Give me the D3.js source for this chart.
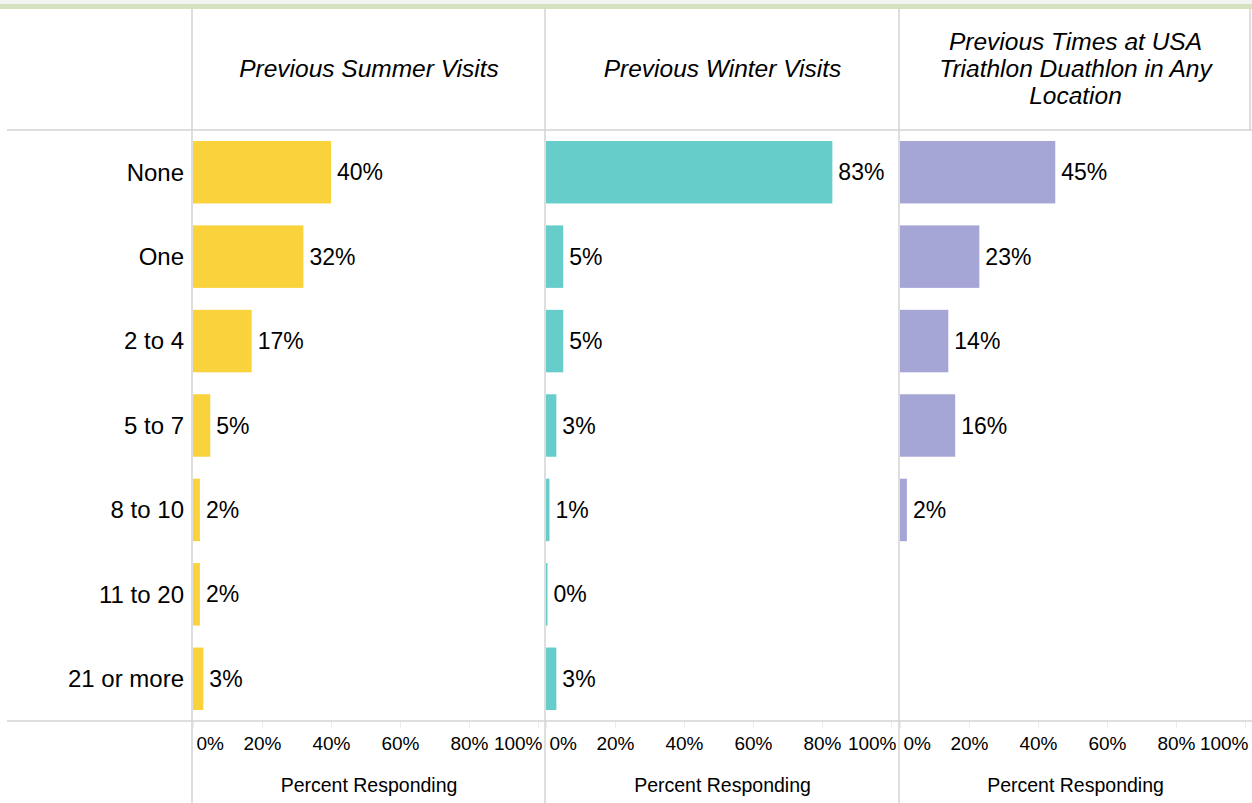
<!DOCTYPE html>
<html>
<head>
<meta charset="utf-8">
<script src="https://cdn.jsdelivr.net/npm/d3@7"></script>
<style>
  body { margin: 0; background: #fff; }
  svg { display: block; font-family: 'Liberation Sans', Arial, sans-serif; }
</style>
</head>
<body>
<div id="chart"></div>
<script>
'use strict'

const categories = ['None', 'One', '2 to 4', '5 to 7', '8 to 10', '11 to 20', '21 or more']
const summerValues = [40, 32, 17, 5, 2, 2, 3]
const winterValues = [83, 5, 5, 3, 1, 0.4, 3]
const triathlonValues = [45, 23, 14, 16, 2, null, null]
const panelTitles = [
  ['Previous Summer Visits'],
  ['Previous Winter Visits'],
  ['Previous Times at USA', 'Triathlon Duathlon in Any', 'Location']
]
const tickValues = [0, 20, 40, 60, 80, 100]
const axisTitle = 'Percent Responding'

const WIDTH = 1252
const HEIGHT = 803
const lineColor = '#d3d3d3'
const textColor = '#000'
const panelColors = ['#f9d23c', '#66cdcb', '#a6a6d6']
const panelValues = [summerValues, winterValues, triathlonValues]
const dividers = [192, 545, 899, 1251]
const headerBottom = 130
const axisTop = 721

const svg = d3.select('#chart')
  .append('svg')
  .attr('width', WIDTH)
  .attr('height', HEIGHT)

// top band
svg.append('rect').attr('x', 0).attr('y', 0).attr('width', WIDTH).attr('height', 4).attr('fill', '#f2f2f2')
svg.append('rect').attr('x', 0).attr('y', 4).attr('width', WIDTH).attr('height', 5).attr('fill', '#d4e2c0')

const y = d3.scaleBand()
  .domain(categories)
  .range([headerBottom, axisTop])
  .paddingInner(0.26)
  .paddingOuter(0.13)

// grid lines
svg.append('line')
  .attr('x1', 7).attr('x2', WIDTH).attr('y1', headerBottom).attr('y2', headerBottom)
  .attr('stroke', lineColor).attr('stroke-width', 1.5)
svg.append('line')
  .attr('x1', 7).attr('x2', WIDTH).attr('y1', axisTop).attr('y2', axisTop)
  .attr('stroke', lineColor).attr('stroke-width', 1.5)
dividers.slice(0, 3).forEach((x) => {
  svg.append('line')
    .attr('x1', x).attr('x2', x).attr('y1', 9).attr('y2', HEIGHT)
    .attr('stroke', lineColor).attr('stroke-width', 1.5)
})
svg.append('line')
  .attr('x1', 1250).attr('x2', 1250).attr('y1', 9).attr('y2', headerBottom)
  .attr('stroke', lineColor).attr('stroke-width', 1.5)

// row labels
svg.append('g')
  .selectAll('text')
  .data(categories)
  .enter()
  .append('text')
  .attr('x', 184)
  .attr('y', (d) => y(d) + y.bandwidth() / 2)
  .attr('dy', '0.35em')
  .attr('text-anchor', 'end')
  .style('font-size', '24px')
  .attr('fill', textColor)
  .text((d) => d)

panelValues.forEach((values, p) => {
  const left = dividers[p] + 1
  const right = dividers[p + 1]
  const x = d3.scaleLinear().domain([0, 100]).range([left, left + 345])
  const panel = svg.append('g')

  // header
  const title = panelTitles[p]
  const cx = (left + right) / 2
  const lineH = 27
  const startY = 68 - (title.length - 1) * lineH / 2
  panel.append('text')
    .attr('text-anchor', 'middle')
    .style('font-size', '24.5px')
    .style('font-style', 'italic')
    .attr('fill', textColor)
    .selectAll('tspan')
    .data(title)
    .enter()
    .append('tspan')
    .attr('x', cx)
    .attr('y', (d, i) => startY + i * lineH)
    .attr('dy', '0.35em')
    .text((d) => d)

  const rows = categories.map((c, i) => ({ cat: c, value: values[i] })).filter((d) => d.value !== null)

  panel.selectAll('rect.bar')
    .data(rows)
    .enter()
    .append('rect')
    .attr('class', 'bar')
    .attr('x', x(0))
    .attr('y', (d) => y(d.cat))
    .attr('width', (d) => Math.max(1.5, x(d.value) - x(0)))
    .attr('height', y.bandwidth())
    .attr('fill', panelColors[p])

  panel.selectAll('text.value')
    .data(rows)
    .enter()
    .append('text')
    .attr('class', 'value')
    .attr('x', (d) => Math.max(x(0) + 1.5, x(d.value)) + 6)
    .attr('y', (d) => y(d.cat) + y.bandwidth() / 2)
    .attr('dy', '0.35em')
    .style('font-size', '23px')
    .attr('fill', textColor)
    .text((d) => Math.round(d.value) + '%')

  // axis
  const axis = panel.append('g')
    .attr('transform', `translate(0, ${axisTop + 1})`)
    .call(d3.axisBottom(x).tickValues(tickValues).tickSize(6).tickSizeOuter(0).tickFormat((d) => d + '%'))
  axis.select('.domain').remove()
  axis.selectAll('.tick line').attr('stroke', '#ececec')
  axis.selectAll('.tick text')
    .attr('y', 0)
    .attr('dy', 28)
    .style('font-size', '19px')
    .style('font-family', "'Liberation Sans', Arial, sans-serif")
    .attr('fill', textColor)
  axis.selectAll('.tick text')
    .filter((d) => d === 0)
    .attr('text-anchor', 'start')
    .attr('x', 3)
  axis.selectAll('.tick text')
    .filter((d) => d === 100)
    .attr('text-anchor', 'end')
    .attr('x', right - 3 - x(100))

  panel.append('text')
    .attr('x', cx)
    .attr('y', 792)
    .attr('text-anchor', 'middle')
    .style('font-size', '19.5px')
    .attr('fill', textColor)
    .text(axisTitle)
})
</script>
</body>
</html>
